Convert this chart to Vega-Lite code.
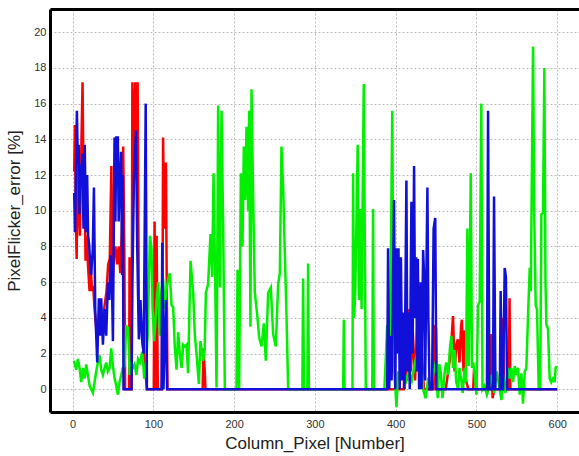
{
"$schema":"https://vega.github.io/schema/vega-lite/v6.json",
"width":529,"height":403,
"autosize":{"type":"none"},
"padding":{"left":50,"top":9,"right":0,"bottom":44},
"background":"white",
"config":{"view":{"stroke":null},"font":"Liberation Sans",
"axis":{"labelFont":"Liberation Sans","titleFont":"Liberation Sans","labelFontSize":11,"labelColor":"#333","titleFontSize":17,"titleFontWeight":"normal","titleColor":"#222","gridColor":"#bbbbbb","gridDash":[2,2],"gridWidth":1,"ticks":false,"domainColor":"#000","domainWidth":3}},
"datasets":{
"red":[{"x":2,"y":12.2},{"x":2.8,"y":14.8},{"x":4.2,"y":9},{"x":5,"y":7.3},{"x":6.5,"y":13.6},{"x":8,"y":10},{"x":9,"y":8.6},{"x":11,"y":14},{"x":12.3,"y":17.2},{"x":13.4,"y":12},{"x":14.5,"y":13},{"x":16,"y":7.2},{"x":17.5,"y":8.6},{"x":19,"y":7},{"x":21,"y":5.5},{"x":22.5,"y":6.8},{"x":24,"y":5.5},{"x":25.5,"y":5.8},{"x":27,"y":4.6},{"x":30,"y":3},{"x":33,"y":4},{"x":36,"y":3.5},{"x":39,"y":4.5},{"x":42,"y":5.5},{"x":44,"y":7},{"x":46,"y":7.3},{"x":48,"y":12.5},{"x":49.5,"y":6},{"x":51,"y":7.5},{"x":53,"y":8},{"x":55,"y":7},{"x":57,"y":8},{"x":59,"y":6.5},{"x":61,"y":9},{"x":62.6,"y":13.6},{"x":64,"y":8},{"x":65,"y":0},{"x":70,"y":0},{"x":70.5,"y":7.4},{"x":71.5,"y":0},{"x":73,"y":0},{"x":74,"y":17.2},{"x":76,"y":12},{"x":77.5,"y":17.2},{"x":79,"y":14},{"x":80.5,"y":17.2},{"x":82,"y":4.3},{"x":84,"y":4},{"x":86,"y":3},{"x":88,"y":2},{"x":90,"y":1},{"x":92,"y":0},{"x":100.5,"y":0},{"x":101.5,"y":9.4},{"x":103,"y":0},{"x":104,"y":8.6},{"x":105.5,"y":0},{"x":111,"y":0},{"x":112,"y":14.1},{"x":113.5,"y":9},{"x":115.5,"y":12.7},{"x":117.5,"y":0},{"x":161,"y":0},{"x":162,"y":2.3},{"x":163.5,"y":1.1},{"x":164.5,"y":0},{"x":410,"y":0},{"x":412,"y":3},{"x":414,"y":0.5},{"x":417,"y":4.5},{"x":419,"y":1},{"x":421,"y":3.5},{"x":424,"y":0.5},{"x":427,"y":4},{"x":429,"y":1},{"x":432,"y":2.5},{"x":435,"y":0},{"x":447,"y":0},{"x":448,"y":3.5},{"x":450,"y":3.4},{"x":451,"y":0},{"x":462,"y":0},{"x":465,"y":1},{"x":468,"y":2},{"x":471,"y":4.1},{"x":473,"y":1},{"x":475,"y":2.5},{"x":477,"y":2.8},{"x":479,"y":1.5},{"x":481,"y":3.5},{"x":482,"y":3.9},{"x":484,"y":1},{"x":485,"y":3.3},{"x":487,"y":0.5},{"x":490,"y":0},{"x":496,"y":0},{"x":497,"y":1.1},{"x":499,"y":0.5},{"x":500,"y":0},{"x":517,"y":0},{"x":518.5,"y":3.1},{"x":520,"y":-0.5},{"x":522,"y":0},{"x":531,"y":0},{"x":532,"y":2},{"x":533,"y":4},{"x":534,"y":0},{"x":540,"y":0},{"x":541,"y":5.1},{"x":542,"y":0},{"x":600,"y":0}],
"green":[{"x":1.6,"y":1.6},{"x":4.5,"y":1.1},{"x":6.6,"y":1.7},{"x":8.6,"y":1.2},{"x":10.7,"y":0.4},{"x":12.7,"y":1.2},{"x":14.8,"y":0.6},{"x":16.9,"y":1.4},{"x":18.9,"y":0.8},{"x":21,"y":0.2},{"x":23,"y":0},{"x":25.1,"y":-0.2},{"x":27.2,"y":0.4},{"x":29.2,"y":1},{"x":31.3,"y":1.5},{"x":33.4,"y":1.9},{"x":35.4,"y":1.1},{"x":37.5,"y":0.8},{"x":39.6,"y":1.2},{"x":41.6,"y":1.5},{"x":43.7,"y":1},{"x":45.8,"y":1.2},{"x":47.8,"y":2.3},{"x":49.9,"y":1.3},{"x":52,"y":0.6},{"x":54,"y":0.2},{"x":56.1,"y":-0.3},{"x":58.1,"y":0.4},{"x":60.2,"y":0.8},{"x":62.2,"y":1.2},{"x":64.3,"y":1.3},{"x":66.4,"y":3.6},{"x":67.6,"y":3.2},{"x":68.4,"y":3.5},{"x":69.6,"y":2.5},{"x":70.5,"y":0.8},{"x":72.6,"y":1.5},{"x":74.6,"y":1.2},{"x":76.7,"y":1.4},{"x":79,"y":0.8},{"x":81,"y":1.7},{"x":83.3,"y":1.5},{"x":86.2,"y":2.1},{"x":88.7,"y":0.6},{"x":91,"y":1.5},{"x":93,"y":3},{"x":95.7,"y":8.6},{"x":97.7,"y":7.9},{"x":99,"y":4.5},{"x":101,"y":2.7},{"x":103.9,"y":4.9},{"x":106,"y":6},{"x":108,"y":3},{"x":110,"y":5.5},{"x":112,"y":6.2},{"x":114,"y":4.5},{"x":116,"y":5.5},{"x":118.4,"y":6.2},{"x":120.4,"y":6.5},{"x":122.5,"y":4.7},{"x":124.5,"y":4.6},{"x":126.6,"y":2.3},{"x":128.7,"y":1.1},{"x":130.7,"y":3.2},{"x":132.8,"y":2},{"x":134.9,"y":1.2},{"x":137,"y":2.5},{"x":139,"y":2.4},{"x":141,"y":2.5},{"x":143,"y":0.9},{"x":146,"y":7.2},{"x":149.3,"y":5.4},{"x":151.4,"y":3},{"x":153.4,"y":2},{"x":156.3,"y":0.3},{"x":158.3,"y":2.7},{"x":161.6,"y":1.6},{"x":163.5,"y":2.2},{"x":165,"y":5.4},{"x":167.8,"y":5.9},{"x":170.7,"y":8.7},{"x":172.8,"y":6.3},{"x":174.5,"y":12.1},{"x":176.5,"y":6.3},{"x":178.2,"y":0.1},{"x":180.2,"y":15.9},{"x":182.3,"y":5.7},{"x":184.4,"y":15.6},{"x":186.4,"y":9.1},{"x":188.5,"y":0},{"x":202.9,"y":0},{"x":204.2,"y":6.7},{"x":206.2,"y":0},{"x":208.3,"y":12.1},{"x":210.3,"y":8},{"x":212,"y":13.6},{"x":213.6,"y":10.6},{"x":215.3,"y":14.7},{"x":217.3,"y":10},{"x":218.6,"y":15.6},{"x":220.2,"y":3.5},{"x":221.5,"y":16.8},{"x":223.6,"y":10.6},{"x":225.6,"y":5.4},{"x":228.5,"y":4.2},{"x":231,"y":2.9},{"x":233.9,"y":2.4},{"x":236.8,"y":3.7},{"x":239.2,"y":1.6},{"x":242.1,"y":5.4},{"x":245.4,"y":5.7},{"x":248.3,"y":3.1},{"x":251.6,"y":2.4},{"x":254.5,"y":5.9},{"x":256.6,"y":6.5},{"x":258.6,"y":13.6},{"x":260.7,"y":11.3},{"x":262.3,"y":8.4},{"x":264.8,"y":4.2},{"x":266.9,"y":0},{"x":284.5,"y":0},{"x":285.4,"y":6.2},{"x":286.5,"y":0},{"x":290.6,"y":0},{"x":291.6,"y":7.05},{"x":292.6,"y":0},{"x":335,"y":0},{"x":335.8,"y":3.9},{"x":336.8,"y":0},{"x":346.5,"y":0},{"x":347.3,"y":12.1},{"x":348.5,"y":4},{"x":350,"y":5.5},{"x":353,"y":13.7},{"x":354.5,"y":5},{"x":356.5,"y":10.1},{"x":357.8,"y":4.5},{"x":360.5,"y":17.1},{"x":363,"y":0},{"x":371,"y":0},{"x":372,"y":10.1},{"x":373,"y":0},{"x":386,"y":0},{"x":388,"y":2},{"x":389.5,"y":3.6},{"x":391,"y":1},{"x":393,"y":2.5},{"x":395.8,"y":15.6},{"x":397.5,"y":1.5},{"x":399,"y":0.5},{"x":401,"y":-1},{"x":403,"y":1},{"x":406,"y":0.5},{"x":409,"y":1.5},{"x":412,"y":0.3},{"x":416,"y":1},{"x":420,"y":0.5},{"x":424,"y":1.5},{"x":427.8,"y":2.3},{"x":430,"y":2.2},{"x":432,"y":1.2},{"x":434,"y":0},{"x":437,"y":-0.5},{"x":440,"y":0.5},{"x":444,"y":0.2},{"x":448,"y":1.2},{"x":450,"y":1.6},{"x":452,"y":-0.5},{"x":454,"y":1.4},{"x":456,"y":0.9},{"x":458,"y":-0.5},{"x":460.8,"y":1},{"x":462.5,"y":1.5},{"x":464.9,"y":0.8},{"x":467,"y":2.2},{"x":469,"y":3},{"x":471,"y":1.2},{"x":473,"y":2.2},{"x":475,"y":0.4},{"x":477.3,"y":0},{"x":479,"y":1.2},{"x":481,"y":0.6},{"x":483,"y":-0.2},{"x":485.5,"y":1.2},{"x":487,"y":0.4},{"x":488.8,"y":9},{"x":490.5,"y":1.3},{"x":493,"y":12.1},{"x":494.5,"y":1.2},{"x":496,"y":1.5},{"x":498,"y":0.8},{"x":500,"y":-0.3},{"x":502,"y":4.7},{"x":504,"y":4.9},{"x":506.1,"y":16},{"x":507.5,"y":0},{"x":510,"y":0.2},{"x":513,"y":-0.3},{"x":516,"y":0.2},{"x":519,"y":0.8},{"x":522,"y":-0.2},{"x":525,"y":1},{"x":528,"y":0.2},{"x":531,"y":-0.6},{"x":533,"y":0.8},{"x":536,"y":-0.2},{"x":539,"y":1.2},{"x":541.2,"y":0.6},{"x":543.3,"y":1.2},{"x":545.3,"y":0.4},{"x":547.4,"y":1.3},{"x":549.5,"y":0.8},{"x":551.5,"y":1.2},{"x":553.6,"y":-0.3},{"x":555.7,"y":0.9},{"x":557.7,"y":-0.8},{"x":559.8,"y":1},{"x":561.8,"y":1.2},{"x":563.9,"y":4.1},{"x":566,"y":6.8},{"x":567.3,"y":5.5},{"x":570.1,"y":19.2},{"x":571.5,"y":10},{"x":573.4,"y":4.7},{"x":575,"y":4.5},{"x":577.1,"y":0},{"x":579,"y":0},{"x":580.4,"y":9.8},{"x":582.4,"y":9.9},{"x":584.1,"y":18},{"x":585.5,"y":6},{"x":586.6,"y":3.6},{"x":588.6,"y":3.4},{"x":590.7,"y":0.6},{"x":592.7,"y":0.4},{"x":594.8,"y":0.6},{"x":596.8,"y":0.4},{"x":598.1,"y":1.2},{"x":599,"y":1.3}],
"blue":[{"x":2,"y":11},{"x":3,"y":8.8},{"x":5.3,"y":15.6},{"x":6.5,"y":12.6},{"x":7.5,"y":13.7},{"x":8.5,"y":9.8},{"x":9.5,"y":12.6},{"x":10.5,"y":11.3},{"x":12,"y":13.2},{"x":13.5,"y":9},{"x":15,"y":13.7},{"x":16.5,"y":8.8},{"x":18,"y":12},{"x":19.2,"y":8.6},{"x":20.5,"y":8.1},{"x":22,"y":6.8},{"x":23,"y":6.4},{"x":25,"y":7.9},{"x":26.4,"y":11.3},{"x":28,"y":4.5},{"x":30.5,"y":1.5},{"x":32.5,"y":5.1},{"x":34.2,"y":3},{"x":35.4,"y":5.1},{"x":37.5,"y":2.5},{"x":39.6,"y":4.5},{"x":41.6,"y":3},{"x":43.7,"y":6},{"x":45.5,"y":5},{"x":47,"y":7.5},{"x":48.5,"y":6.5},{"x":49.9,"y":2.7},{"x":51.9,"y":14.1},{"x":53,"y":9.4},{"x":54,"y":14.1},{"x":56,"y":14.1},{"x":57,"y":9.4},{"x":58,"y":11},{"x":60,"y":13.3},{"x":61.4,"y":6.4},{"x":62.2,"y":12},{"x":63,"y":0},{"x":73,"y":0},{"x":74,"y":6},{"x":76,"y":12},{"x":78.5,"y":14.5},{"x":80,"y":8},{"x":82,"y":2.8},{"x":84,"y":5},{"x":86,"y":2.8},{"x":88,"y":2},{"x":90.5,"y":16},{"x":92,"y":0},{"x":110,"y":0},{"x":111,"y":8.2},{"x":112.5,"y":0},{"x":115.5,"y":5},{"x":117,"y":0},{"x":389.5,"y":0},{"x":390.6,"y":7.9},{"x":392,"y":0},{"x":393.5,"y":3},{"x":395,"y":0.5},{"x":398,"y":10.6},{"x":399.5,"y":0},{"x":401,"y":7.9},{"x":402,"y":2},{"x":403.5,"y":7.9},{"x":405,"y":0},{"x":406.5,"y":7.4},{"x":408,"y":0.5},{"x":409.5,"y":4.3},{"x":411,"y":0},{"x":413.3,"y":11.7},{"x":414.5,"y":1},{"x":416,"y":4.3},{"x":417.5,"y":0},{"x":419.5,"y":10.5},{"x":421,"y":2},{"x":422.8,"y":12.5},{"x":424,"y":4},{"x":425.5,"y":7.4},{"x":426.5,"y":1},{"x":427.5,"y":7.3},{"x":429,"y":0},{"x":431,"y":6},{"x":432,"y":0},{"x":434,"y":7.8},{"x":435.5,"y":6},{"x":436.5,"y":0.5},{"x":439.3,"y":11.3},{"x":440.5,"y":4},{"x":442,"y":0},{"x":445,"y":0},{"x":447,"y":9},{"x":449,"y":9.6},{"x":450.4,"y":0},{"x":513,"y":0},{"x":514.4,"y":15.6},{"x":516,"y":0},{"x":520.5,"y":0},{"x":521.8,"y":10.8},{"x":523.5,"y":0},{"x":529,"y":0},{"x":530,"y":5.5},{"x":531.5,"y":0},{"x":533,"y":0},{"x":535,"y":6.8},{"x":536.5,"y":6.3},{"x":538,"y":0},{"x":600,"y":0}]
},
"resolve":{"axis":{"x":"independent","y":"independent"}},
"layer":[
{"data":{"name":"red"},"mark":{"type":"line","color":"#ff0000","strokeWidth":2.5,"clip":true},
"encoding":{"x":{"field":"x","type":"quantitative","scale":{"domain":[-28,627],"nice":false,"zero":false},
"axis":{"orient":"bottom","values":[0,100,200,300,400,500,600],"grid":true,"labelPadding":6,"title":"Column_Pixel [Number]","titlePadding":6}},
"y":{"field":"y","type":"quantitative","scale":{"domain":[-1.27,21.3],"nice":false,"zero":false},
"axis":{"values":[0,2,4,6,8,10,12,14,16,18,20],"grid":true,"labelPadding":4,"title":"PixelFlicker_error [%]","titlePadding":10}}}},
{"data":{"name":"green"},"mark":{"type":"line","color":"#00f000","strokeWidth":2.5,"clip":true},
"encoding":{"x":{"field":"x","type":"quantitative","axis":null},"y":{"field":"y","type":"quantitative","axis":null}}},
{"data":{"name":"blue"},"mark":{"type":"line","color":"#1010d8","strokeWidth":2.5,"clip":true},
"encoding":{"x":{"field":"x","type":"quantitative","axis":{"orient":"top","labels":false,"grid":false,"title":null}},"y":{"field":"y","type":"quantitative","axis":null}}}
]
}
